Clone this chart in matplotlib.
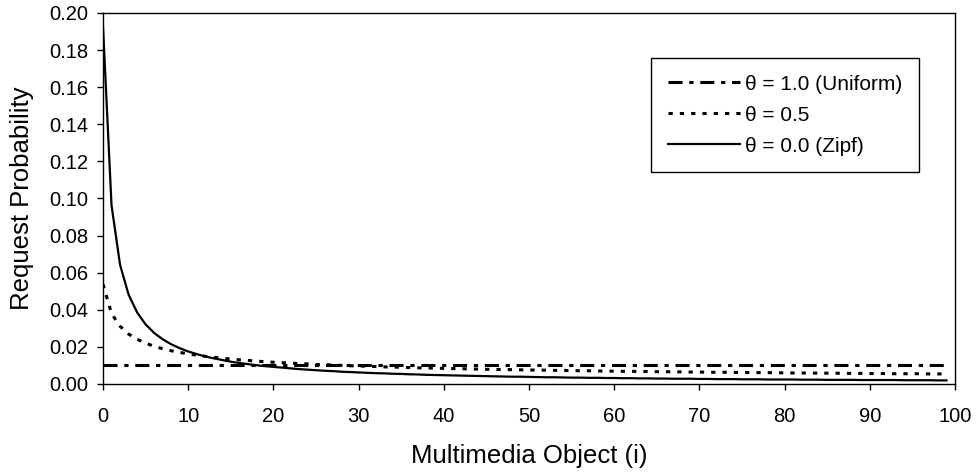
import matplotlib
matplotlib.use('Agg')
import matplotlib.pyplot as plt
from matplotlib.ticker import FormatStrFormatter

plt.rcParams['font.family'] = ['Liberation Sans', 'DejaVu Sans']

# object index (0..99)
objects = list(range(100))

# theta = 1.0 (uniform)
p_uniform = [0.01] * 100

# theta = 0.5
p_half = [
    0.0538, 0.0380, 0.0311, 0.0269, 0.0241, 0.0220, 0.0203, 0.0190, 0.0179, 0.0170,
    0.0162, 0.0155, 0.0149, 0.0144, 0.0139, 0.0134, 0.0130, 0.0127, 0.0123, 0.0120,
    0.0117, 0.0115, 0.0112, 0.0110, 0.0108, 0.0105, 0.0104, 0.0102, 0.0100, 0.0098,
    0.0097, 0.0095, 0.0094, 0.0092, 0.0091, 0.0090, 0.0088, 0.0087, 0.0086, 0.0085,
    0.0084, 0.0083, 0.0082, 0.0081, 0.0080, 0.0079, 0.0078, 0.0078, 0.0077, 0.0076,
    0.0075, 0.0075, 0.0074, 0.0073, 0.0073, 0.0072, 0.0071, 0.0071, 0.0070, 0.0069,
    0.0069, 0.0068, 0.0068, 0.0067, 0.0067, 0.0066, 0.0066, 0.0065, 0.0065, 0.0064,
    0.0064, 0.0063, 0.0063, 0.0063, 0.0062, 0.0062, 0.0061, 0.0061, 0.0061, 0.0060,
    0.0060, 0.0059, 0.0059, 0.0059, 0.0058, 0.0058, 0.0058, 0.0057, 0.0057, 0.0057,
    0.0056, 0.0056, 0.0056, 0.0055, 0.0055, 0.0055, 0.0055, 0.0054, 0.0054, 0.0054,
]

# theta = 0.0 (Zipf)
p_zipf = [
    0.1928, 0.0964, 0.0643, 0.0482, 0.0386, 0.0321, 0.0275, 0.0241, 0.0214, 0.0193,
    0.0175, 0.0161, 0.0148, 0.0138, 0.0129, 0.0120, 0.0113, 0.0107, 0.0101, 0.0096,
    0.0092, 0.0088, 0.0084, 0.0080, 0.0077, 0.0074, 0.0071, 0.0069, 0.0066, 0.0064,
    0.0062, 0.0060, 0.0058, 0.0057, 0.0055, 0.0054, 0.0052, 0.0051, 0.0049, 0.0048,
    0.0047, 0.0046, 0.0045, 0.0044, 0.0043, 0.0042, 0.0041, 0.0040, 0.0039, 0.0039,
    0.0038, 0.0037, 0.0036, 0.0036, 0.0035, 0.0034, 0.0034, 0.0033, 0.0033, 0.0032,
    0.0032, 0.0031, 0.0031, 0.0030, 0.0030, 0.0029, 0.0029, 0.0028, 0.0028, 0.0028,
    0.0027, 0.0027, 0.0026, 0.0026, 0.0026, 0.0025, 0.0025, 0.0025, 0.0024, 0.0024,
    0.0024, 0.0024, 0.0023, 0.0023, 0.0023, 0.0022, 0.0022, 0.0022, 0.0022, 0.0021,
    0.0021, 0.0021, 0.0021, 0.0021, 0.0020, 0.0020, 0.0020, 0.0020, 0.0019, 0.0019,
]

labels = ['θ = 1.0 (Uniform)', 'θ = 0.5', 'θ = 0.0 (Zipf)']

fig = plt.figure(figsize=(9.79, 4.74), dpi=100)
ax = fig.add_axes([0.1052, 0.190, 0.8703, 0.7826])

ax.plot(objects, p_uniform, color='black', lw=2.2, dashes=(4.6, 2.2, 1.4, 2.2), label=labels[0])
ax.plot(objects, p_half, color='black', lw=2.2, dashes=(1.4, 2.3), label=labels[1])
ax.plot(objects, p_zipf, color='black', lw=1.6, label=labels[2])

ax.set_xlim(0, 100)
ax.set_ylim(0, 0.20)
ax.set_xticks(range(0, 101, 10))
ax.set_yticks([i * 0.02 for i in range(11)])
ax.yaxis.set_major_formatter(FormatStrFormatter('%.2f'))
ax.tick_params(direction='out', length=4.5, width=1, labelsize=14.5, colors='black')
ax.tick_params(axis='x', pad=12)
ax.tick_params(axis='y', pad=6)
for s in ax.spines.values():
    s.set_linewidth(1)

ax.set_xlabel('Multimedia Object (i)', fontsize=18.5, labelpad=13)
ax.set_ylabel('Request Probability', fontsize=18.5, labelpad=11)

leg = ax.legend(loc='upper left', bbox_to_anchor=(0.643, 0.879), borderaxespad=0,
                fontsize=15, handlelength=3.5, handletextpad=0.24, labelspacing=0.58,
                frameon=True, fancybox=False, borderpad=0.8)
leg.get_frame().set_edgecolor('black')
leg.get_frame().set_linewidth(1)
leg.get_frame().set_alpha(1)

fig.savefig('out.png', dpi=100)
